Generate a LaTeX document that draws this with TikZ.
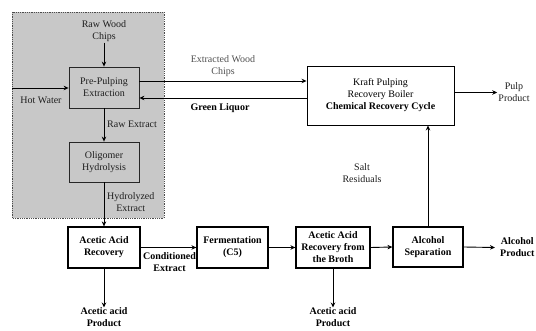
\documentclass[tikz,border=0pt]{standalone}
\usepackage{fontspec}
\setmainfont{Liberation Serif}
\usetikzlibrary{arrows.meta}
\definecolor{areagray}{RGB}{200,200,200}
\definecolor{txt}{RGB}{30,30,30}
\definecolor{ltxt}{RGB}{80,80,80}
\tikzset{
  arr/.style={draw=black,line width=0.9pt,-{Stealth[length=5pt,width=4.5pt]}},
  gbox/.style={draw=black!85,line width=0.8pt,fill=areagray,align=center,inner sep=1pt,text=txt},
  wbox/.style={draw=black,line width=1.2pt,fill=white,align=center,inner sep=1pt,font=\fontsize{10}{12}\selectfont\bfseries},
  lbl/.style={align=center,inner sep=1pt,text=txt},
  blbl/.style={align=center,inner sep=1pt,font=\fontsize{10}{12}\selectfont\bfseries},
}
\begin{document}
\begin{tikzpicture}[x=1pt,y=-1pt,font=\fontsize{10}{12}\selectfont]
\useasboundingbox (0,0) rectangle (536,331);
% shaded pretreatment area
\fill[areagray] (12,12) rectangle (164,218);
\draw[black!70,line width=0.8pt,densely dotted] (12,12) rectangle (164,218);

% boxes
\node[gbox,minimum width=70pt,minimum height=41pt] (pre) at (104,87.5) {Pre-Pulping\\Extraction};
\node[gbox,minimum width=70pt,minimum height=40pt] (olig) at (104,162) {Oligomer\\Hydrolysis};
\node[draw=black,line width=0.9pt,fill=white,align=center,inner sep=1pt,minimum width=147pt,minimum height=59pt] (kraft) at (380.5,95.5)
  {Kraft Pulping\\Recovery Boiler\\\textbf{Chemical Recovery Cycle}};
\node[wbox,minimum width=72pt,minimum height=41pt] (aar) at (104,247.5) {Acetic Acid\\Recovery};
\node[wbox,minimum width=71pt,minimum height=41pt] (ferm) at (232.5,247.5) {Fermentation\\(C5)};
\node[wbox,minimum width=74pt,minimum height=41pt] (broth) at (333,247.5) {Acetic Acid\\Recovery from\\the Broth};
\node[wbox,minimum width=70pt,minimum height=40pt] (alc) at (428,247) {Alcohol\\Separation};

% labels
\node[lbl] (rwc) at (104,31) {Raw Wood\\Chips};
\node[lbl] (hwl) at (41,100) {Hot Water};
\node[lbl,anchor=west] (rel) at (106,124) {Raw Extract};
\node[lbl,anchor=west] (hel) at (106,202) {Hydrolyzed\\Extract};
\node[lbl,text=ltxt] (ewc) at (223,66.5) {Extracted Wood\\Chips};
\node[blbl] (gll) at (220,108) {Green Liquor};
\node[lbl] (pp) at (514,92.5) {Pulp\\Product};
\node[lbl] (salt) at (362,173.5) {Salt\\Residuals};
\node[blbl] (cel) at (169.5,262) {Conditioned\\Extract};
\node[blbl,anchor=west] (ap) at (499,247.5) {Alcohol\\Product};
\node[blbl,anchor=north,font=\fontsize{10}{11.5}\selectfont\bfseries] (ap1) at (104,306.5) {Acetic acid\\Product};
\node[blbl,anchor=north,font=\fontsize{10}{11.5}\selectfont\bfseries] (ap2) at (333,306.5) {Acetic acid\\Product};

\coordinate (hw) at (12,88);
\coordinate (e1) at (0,81);
\coordinate (g1) at (0,98);

% connectors
\draw[arr] (rwc.south) -- (pre.north);
\draw[arr] (hw) -- (hw -| pre.west);
\draw[arr] (pre.south) -- (olig.north);
\draw[arr] (olig.south) -- (aar.north);
\draw[arr] (pre.east |- e1) -- (kraft.west |- e1);
\draw[arr] (kraft.west |- g1) -- (pre.east |- g1);
\draw[arr] (kraft.east |- pp) -- (pp.west);
\draw[arr] (alc.north) -- (alc.north |- kraft.south);
\draw[arr] (aar.east) -- (ferm.west);
\draw[arr] (ferm.east) -- (broth.west);
\draw[arr] (broth.east) -- (alc.west);
\draw[arr] (alc.east) -- ([xshift=-4pt]ap.west);
\draw[arr] (aar.south) -- ([yshift=-1pt]ap1.north);
\draw[arr] (broth.south) -- ([yshift=-1pt]ap2.north);
\end{tikzpicture}
\end{document}
